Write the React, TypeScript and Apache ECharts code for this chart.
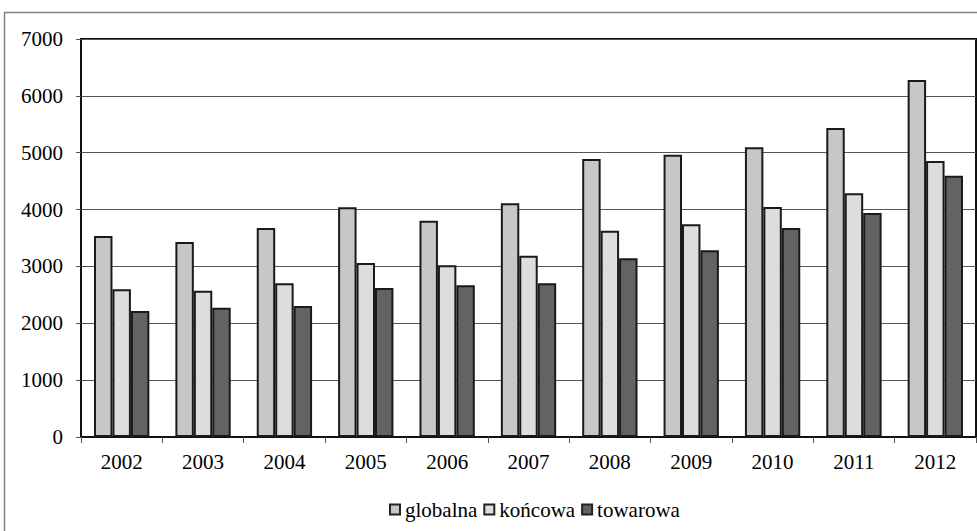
import React, { useEffect, useRef } from "react";
import * as echarts from "echarts";

const years = ["2002", "2003", "2004", "2005", "2006", "2007", "2008", "2009", "2010", "2011", "2012"];
const globalna = [3535, 3430, 3676, 4040, 3804, 4110, 4889, 4963, 5095, 5434, 6279];
const koncowa = [2600, 2573, 2703, 3060, 3019, 3189, 3628, 3741, 4045, 4285, 4854];
const towarowa = [2214, 2274, 2304, 2620, 2667, 2703, 3142, 3283, 3676, 3940, 4596];
const yTicks = { min: 0, max: 7000, interval: 1000 };

const FONT = "Liberation Serif";

export default function App() {
  const ref = useRef<HTMLDivElement>(null);
  useEffect(() => {
    document.body.style.margin = "0";
    if (!ref.current) return;
    const chart = echarts.init(ref.current, undefined, { renderer: "svg" });
    const mk = (name: string, data: number[], color: string) => ({
      name,
      type: "bar",
      data,
      barGap: "0%",
      barCategoryGap: "32%",
      itemStyle: { color, borderColor: "#1a1a1a", borderWidth: 2 },
    });
    chart.setOption({
      animation: false,
      backgroundColor: "#fff",
      textStyle: { fontFamily: FONT },
      graphic: [
        {
          type: "rect",
          shape: { x: 4.5, y: 12.5, width: 1100, height: 700 },
          style: { fill: "none", stroke: "#808080", lineWidth: 1.5 },
          z: -1,
        },
      ],
      grid: { left: 81, top: 39, width: 895, height: 398, show: true, borderColor: "#111", borderWidth: 2, backgroundColor: "transparent" },
      legend: {
        top: 494,
        left: 384,
        icon: "rect",
        itemWidth: 10,
        itemHeight: 10,
        itemGap: 6,
        textStyle: { fontFamily: FONT, fontSize: 21, color: "#000", padding: [0, 0, 0, 0] },
        itemStyle: { borderColor: "#222", borderWidth: 2 },
      },
      xAxis: {
        type: "category",
        data: years,
        axisLine: { show: true, lineStyle: { color: "#111", width: 2 } },
        axisTick: { show: true, alignWithLabel: false, length: 6, lineStyle: { color: "#555" } },
        axisLabel: { fontFamily: FONT, fontSize: 21, color: "#000", margin: 14 },
      },
      yAxis: {
        type: "value",
        min: yTicks.min,
        max: yTicks.max,
        interval: yTicks.interval,
        axisLine: { show: true, lineStyle: { color: "#111", width: 2 } },
        axisTick: { show: true, length: 5, lineStyle: { color: "#555" } },
        axisLabel: { fontFamily: FONT, fontSize: 21, color: "#000", margin: 18, formatter: (v: number) => String(v) },
        splitLine: { show: true, lineStyle: { color: "#555", width: 1 } },
      },
      series: [
        mk("globalna", globalna, "#c6c7c9"),
        mk("końcowa", koncowa, "#dcdddf"),
        mk("towarowa", towarowa, "#636363"),
      ],
    });
    return () => chart.dispose();
  }, []);
  return <div ref={ref} style={{ width: 977, height: 531 }} />;
}
